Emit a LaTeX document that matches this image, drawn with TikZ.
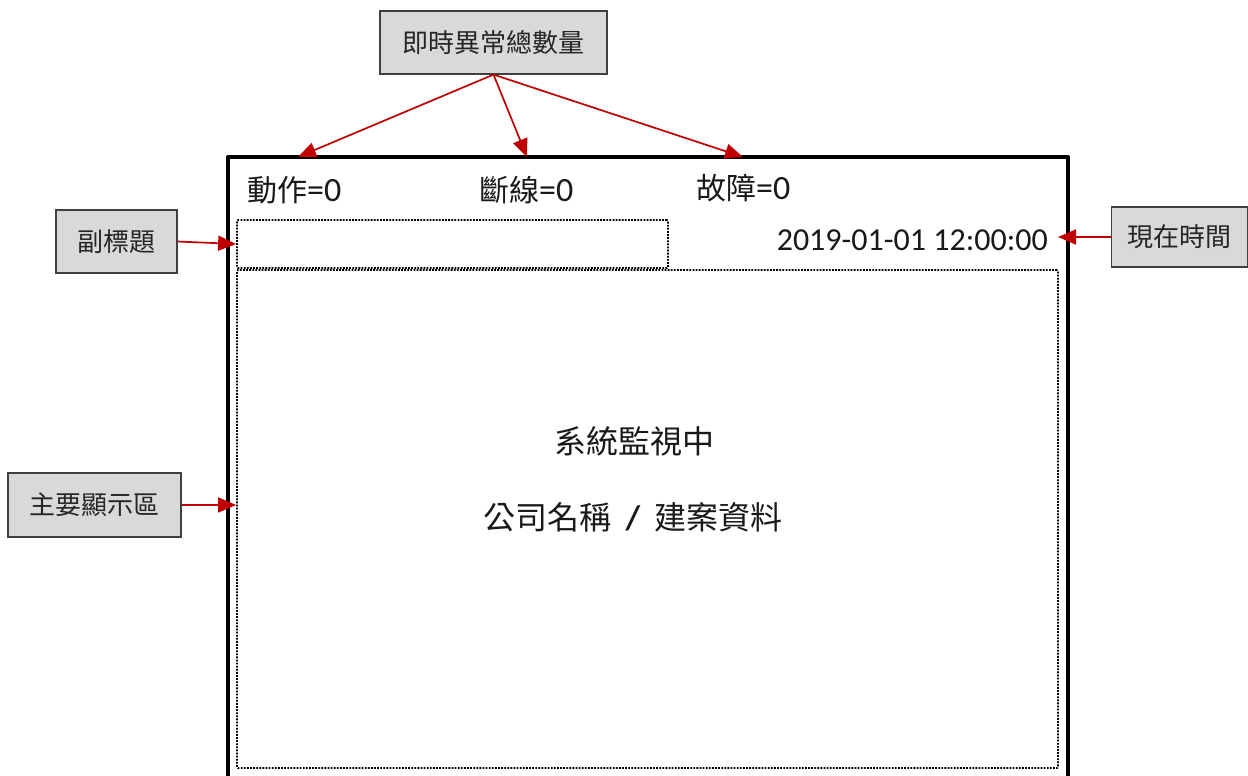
\documentclass[tikz,border=0pt]{standalone}
\usepackage{fontspec}
\setmainfont{Carlito}
\newfontfamily\cjk{Noto Sans CJK TC}
\usetikzlibrary{arrows.meta}
\definecolor{arrowred}{HTML}{C00000}
\definecolor{boxgray}{HTML}{D9D9D9}
\definecolor{boxedge}{HTML}{404040}
\tikzset{
  callout/.style={draw=boxedge, line width=1.2pt, fill=boxgray, inner sep=0pt,
    font=\cjk\fontsize{26}{30}\selectfont, text=black!85},
  redarrow/.style={draw=arrowred, line width=1.7pt, -{Triangle[length=18pt,width=15pt]}},
  dotbox/.style={draw, line width=1.8pt, dash pattern=on 1.8pt off 1.3pt, inner sep=0pt, rounded corners=1pt},
  bigtext/.style={font=\fontsize{34}{38}\selectfont, inner sep=0pt, text=black!90},
}
\begin{document}
\begin{tikzpicture}[x=1pt,y=-1pt]
\clip (0,0) rectangle (1248,776);
\fill[white] (0,0) rectangle (1248,776);
% outer frame
\draw[line width=4.5pt, line join=round] (228,800) -- (228,157) -- (1068,157) -- (1068,800);
\coordinate (t1) at (298,157);
\coordinate (t2) at (527,157);
\coordinate (t3) at (743,157);
\coordinate (frR) at (1058,237);
% inner dotted areas
\node[dotbox, minimum width=431pt, minimum height=48pt] (sub) at (452.5,244) {};
\node[dotbox, minimum width=821pt, minimum height=498pt] (main) at (647.5,519) {};
% texts
\node[bigtext, anchor=west] (act) at (247,190) {{\cjk\fontsize{30}{34}\selectfont 動作}=0};
\node[bigtext, anchor=west] (brk) at (479,190) {{\cjk\fontsize{30}{34}\selectfont 斷線}=0};
\node[bigtext, anchor=west] (flt) at (696,188) {{\cjk\fontsize{30}{34}\selectfont 故障}=0};
\node[bigtext, anchor=east, font=\fontsize{32}{36}\selectfont] (time) at (1048,240) {2019-01-01 12:00:00};
\node[bigtext, font=\cjk\fontsize{32}{36}\selectfont] (sys) at (634,441) {系統監視中};
\node[bigtext, font=\cjk\fontsize{32}{36}\selectfont] (comp) at (633,517) {公司名稱\hspace{14pt}{\rmfamily\fontsize{34}{38}\selectfont\bfseries /}\hspace{14pt}建案資料};
% callout boxes
\node[callout, minimum width=227pt, minimum height=63pt] (cnt) at (493.5,42.5) {即時異常總數量};
\node[callout, minimum width=121pt, minimum height=63pt] (subl) at (116.5,241.5) {副標題};
\node[callout, minimum width=136pt, minimum height=60pt] (now) at (1179.5,237) {現在時間};
\node[callout, minimum width=173pt, minimum height=64pt] (mainl) at (94.5,505) {主要顯示區};
% arrows
\draw[redarrow] (cnt.south) -- (t1);
\draw[redarrow] (cnt.south) -- (t2);
\draw[redarrow] (cnt.south) -- (t3);
\draw[redarrow] (subl.east) -- (sub.west);
\draw[redarrow] (mainl.east) -- (main.west |- mainl.east);
\draw[redarrow] (now.west) -- (frR);
\end{tikzpicture}
\end{document}
